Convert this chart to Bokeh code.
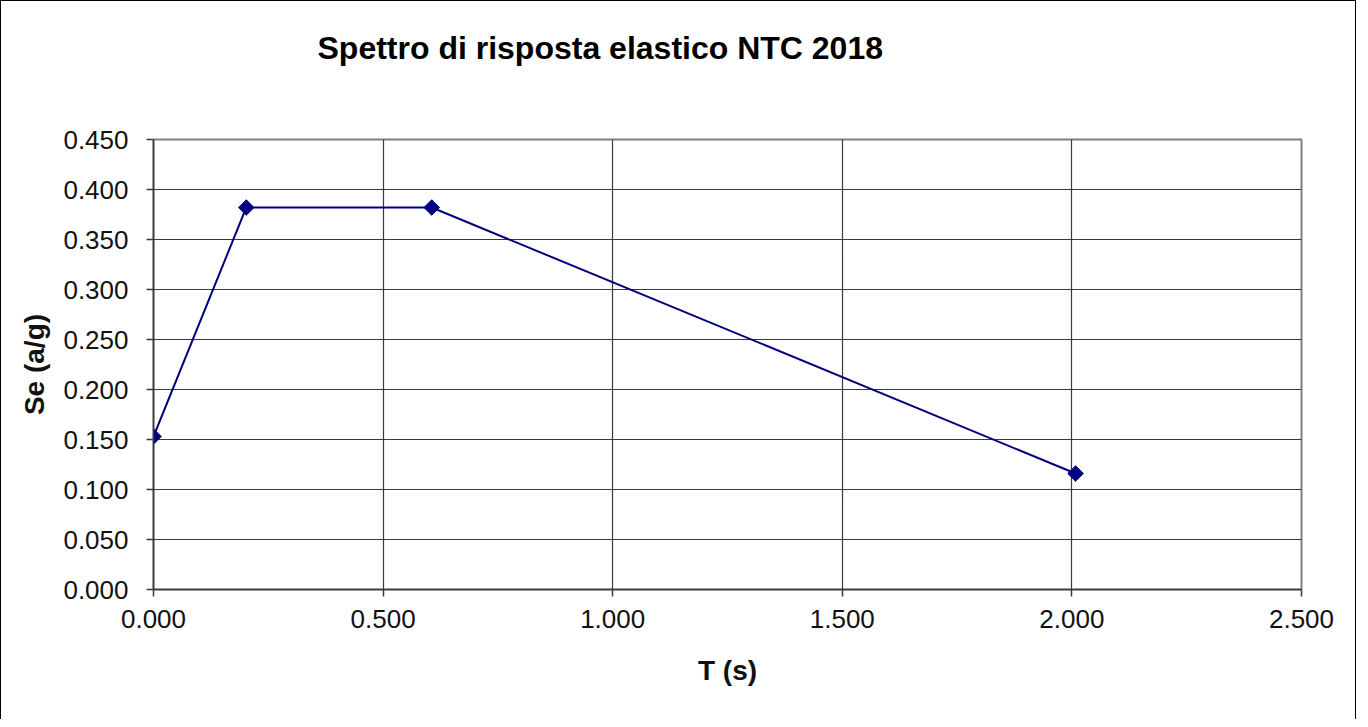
import math
from bokeh.plotting import figure
from bokeh.models import Range1d, FixedTicker, NumeralTickFormatter
from bokeh.embed import file_html
from bokeh.resources import INLINE

# Data
T = [0.000, 0.202, 0.606, 2.008]
Se = [0.153, 0.382, 0.382, 0.116]
x_ticks = [0.0, 0.5, 1.0, 1.5, 2.0, 2.5]
y_ticks = [0.0, 0.05, 0.10, 0.15, 0.20, 0.25, 0.30, 0.35, 0.40, 0.45]
title_text = "Spettro di risposta elastico NTC 2018"
x_label = "T (s)"
y_label = "Se (a/g)"

FONT = "Liberation Sans"

p = figure(width=1356, height=719, output_backend="svg", toolbar_location=None,
           x_range=Range1d(0, 2.5), y_range=Range1d(0, 0.45),
           min_border_left=152, min_border_right=56, min_border_top=138,
           min_border_bottom=131, background_fill_color="white",
           border_fill_color="white")
p.styles = {"border-left": "1px solid black", "border-top": "1px solid black",
            "border-right": "1px solid black"}

p.outline_line_color = "#808080"
p.outline_line_width = 2

# title (a trailing empty line lifts it away from the plot area)
p.title.text = title_text + "\n"
p.title.align = "left"
p.title.offset = 164
p.title.text_font = FONT
p.title.text_font_size = "32px"
p.title.text_font_style = "bold"
p.title.text_color = "black"
p.title.text_line_height = 1.9
p.title.standoff = 10

# grid
p.xgrid.ticker = FixedTicker(ticks=x_ticks)
p.ygrid.ticker = FixedTicker(ticks=y_ticks)
for g in (p.xgrid, p.ygrid):
    g.grid_line_color = "#3a3a3a"
    g.grid_line_width = 1.2

for ax, ticks in ((p.xaxis, x_ticks), (p.yaxis, y_ticks)):
    ax.ticker = FixedTicker(ticks=ticks)
    ax.formatter = NumeralTickFormatter(format="0.000")
    ax.axis_line_color = "#3a3a3a"
    ax.axis_line_width = 1.5
    ax.major_tick_line_color = "#3a3a3a"
    ax.major_tick_line_width = 1.5
    ax.major_tick_out = 7
    ax.major_tick_in = 0
    ax.minor_tick_line_color = None
    ax.major_label_text_font = FONT
    ax.major_label_text_font_size = "26px"
    ax.major_label_text_color = "#111111"
    ax.axis_label_text_font = FONT
    ax.axis_label_text_font_size = "28px"
    ax.axis_label_text_font_style = "bold"
    ax.axis_label_text_color = "#111111"

p.xaxis.axis_label = x_label
p.yaxis.axis_label = y_label
p.xaxis.major_label_standoff = 13
p.yaxis.major_label_standoff = 18
p.xaxis.axis_label_standoff = 24
p.yaxis.axis_label_standoff = 10

p.line(T, Se, line_color="#000080", line_width=2)
p.scatter(T, Se, marker="square", size=11, angle=math.pi / 4,
          fill_color="#000080", line_color="#000080")

open("out.html", "w").write(file_html(p, INLINE))
